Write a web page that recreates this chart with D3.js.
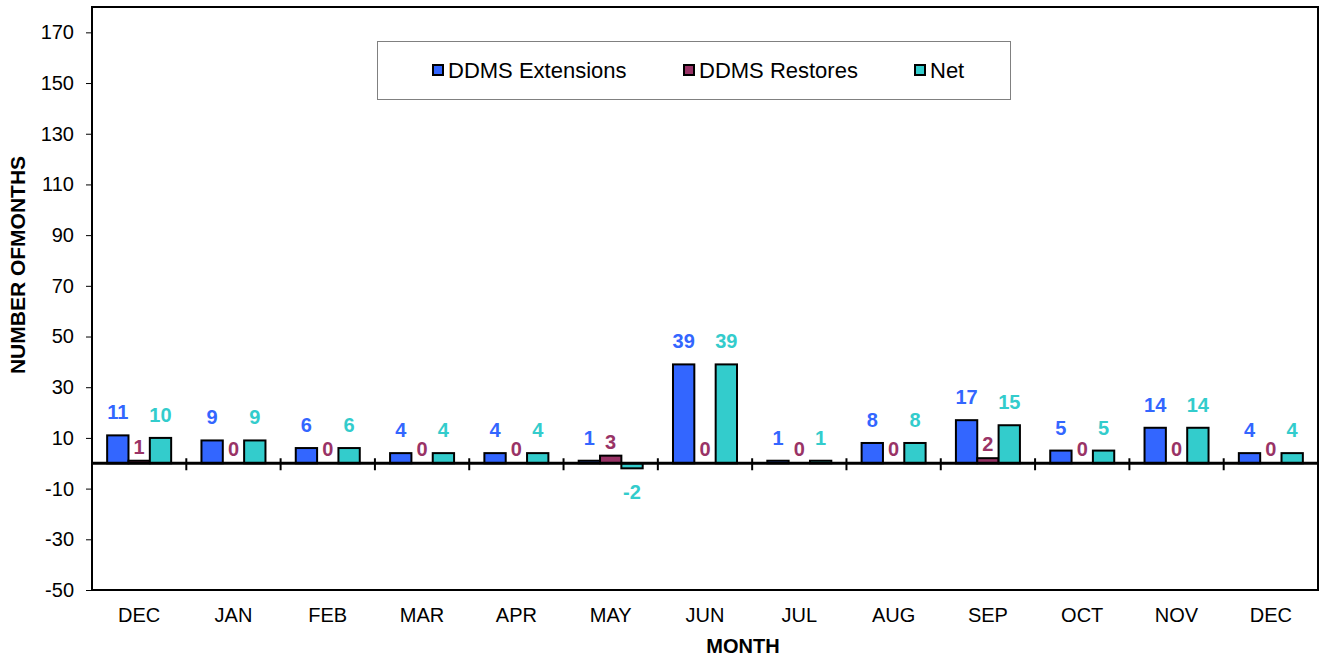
<!DOCTYPE html>
<html>
<head>
<meta charset="utf-8">
<script src="https://cdn.jsdelivr.net/npm/d3@7"></script>
<style>
    body { margin: 0; background: #fff; }
    svg { display: block; font-family: 'Liberation Sans', Arial, sans-serif; }
</style>
</head>
<body>
<svg id="chart"></svg>
<script>
const months = ['DEC', 'JAN', 'FEB', 'MAR', 'APR', 'MAY', 'JUN', 'JUL', 'AUG', 'SEP', 'OCT', 'NOV', 'DEC'];
const extensions = [11, 9, 6, 4, 4, 1, 39, 1, 8, 17, 5, 14, 4];
const restores = [1, 0, 0, 0, 0, 3, 0, 0, 0, 2, 0, 0, 0];
const net = [10, 9, 6, 4, 4, -2, 39, 1, 8, 15, 5, 14, 4];
const yTicks = [-50, -30, -10, 10, 30, 50, 70, 90, 110, 130, 150, 170];

const series = [
    { key: 'DDMS Extensions', values: extensions, fill: '#3366FF', label: '#3366FF', gap: 23 },
    { key: 'DDMS Restores', values: restores, fill: '#993366', label: '#993366', gap: 14 },
    { key: 'Net', values: net, fill: '#33CCCC', label: '#33CCCC', gap: 23 }
];

const outerWidth = 1320;
const outerHeight = 659;
const margin = { top: 7, left: 92, bottom: 69, right: 2 };
const innerWidth = outerWidth - margin.left - margin.right;
const innerHeight = outerHeight - margin.top - margin.bottom;

const svg = d3.select('#chart')
    .attr('width', outerWidth)
    .attr('height', outerHeight);

const g = svg.append('g')
    .attr('transform', `translate(${margin.left},${margin.top})`);

const xScale = d3.scaleBand()
    .domain(months.map((d, i) => i))
    .range([0, innerWidth]);

const xInner = d3.scaleBand()
    .domain(series.map(s => s.key))
    .range([0, xScale.bandwidth()])
    .paddingOuter(0.71);

const yScale = d3.scaleLinear()
    .domain([-50, 180])
    .range([innerHeight, 0]);

// y axis ticks and labels (plain hyphen for negatives)
const yAxis = g.append('g')
    .call(d3.axisLeft(yScale)
        .tickValues(yTicks)
        .tickFormat(d => String(d))
        .tickSize(6)
        .tickPadding(12));
yAxis.select('.domain').remove();
yAxis.selectAll('.tick line').attr('stroke', '#000').attr('stroke-width', 1);
yAxis.selectAll('.tick text')
    .attr('font-size', 20)
    .attr('font-family', 'Liberation Sans, Arial, sans-serif')
    .attr('fill', '#000');

// bars
const groups = g.selectAll('.month')
    .data(months.map((m, i) => i))
    .join('g')
        .classed('month', true)
        .attr('transform', i => `translate(${xScale(i)},0)`);

series.forEach(s => {
    groups.append('rect')
        .attr('x', xInner(s.key))
        .attr('width', xInner.bandwidth())
        .attr('y', i => yScale(Math.max(0, s.values[i])))
        .attr('height', i => Math.abs(yScale(s.values[i]) - yScale(0)))
        .attr('fill', s.fill)
        .attr('stroke', '#000')
        .attr('stroke-width', 2);

    groups.append('text')
        .attr('x', xInner(s.key) + xInner.bandwidth() / 2)
        .attr('y', i => s.values[i] < 0
            ? yScale(s.values[i]) + 24
            : yScale(s.values[i]) - s.gap)
        .attr('dy', '0.35em')
        .attr('text-anchor', 'middle')
        .attr('font-size', 20)
        .attr('font-weight', 'bold')
        .attr('fill', s.label)
        .text(i => s.values[i]);
});

// zero line with category ticks
g.append('line')
    .attr('x1', 0)
    .attr('x2', innerWidth)
    .attr('y1', yScale(0))
    .attr('y2', yScale(0))
    .attr('stroke', '#000')
    .attr('stroke-width', 3);

g.selectAll('.cat-tick')
    .data(months.slice(1).map((m, i) => i + 1))
    .join('line')
        .classed('cat-tick', true)
        .attr('x1', i => xScale(i))
        .attr('x2', i => xScale(i))
        .attr('y1', yScale(0) - 5)
        .attr('y2', yScale(0) + 7)
        .attr('stroke', '#000')
        .attr('stroke-width', 2);

// frame
g.append('rect')
    .attr('x', 0)
    .attr('y', 0)
    .attr('width', innerWidth)
    .attr('height', innerHeight)
    .attr('fill', 'none')
    .attr('stroke', '#000')
    .attr('stroke-width', 2);

// month labels
g.selectAll('.month-label')
    .data(months.map((m, i) => i))
    .join('text')
        .classed('month-label', true)
        .attr('x', i => xScale(i) + xScale.bandwidth() / 2)
        .attr('y', innerHeight + 25)
        .attr('dy', '0.35em')
        .attr('text-anchor', 'middle')
        .attr('font-size', 20)
        .text(i => months[i]);

// axis titles
svg.append('text')
    .attr('x', 743)
    .attr('y', 646)
    .attr('dy', '0.35em')
    .attr('text-anchor', 'middle')
    .attr('font-size', 20)
    .attr('font-weight', 'bold')
    .text('MONTH');

svg.append('text')
    .attr('transform', 'translate(18,265) rotate(-90)')
    .attr('dy', '0.35em')
    .attr('text-anchor', 'middle')
    .attr('font-size', 21)
    .attr('font-weight', 'bold')
    .text('NUMBER OFMONTHS');

// legend
const legend = svg.append('g');
legend.append('rect')
    .attr('x', 377.5)
    .attr('y', 41.5)
    .attr('width', 633)
    .attr('height', 58)
    .attr('fill', '#fff')
    .attr('stroke', '#808080')
    .attr('stroke-width', 1);

const legendX = [433, 684, 915];
series.forEach((s, i) => {
    legend.append('rect')
        .attr('x', legendX[i])
        .attr('y', 65)
        .attr('width', 10)
        .attr('height', 10)
        .attr('fill', s.fill)
        .attr('stroke', '#000')
        .attr('stroke-width', 2);
    legend.append('text')
        .attr('x', legendX[i] + 15)
        .attr('y', 70)
        .attr('dy', '0.35em')
        .attr('font-size', 22)
        .text(s.key);
});
</script>
</body>
</html>
